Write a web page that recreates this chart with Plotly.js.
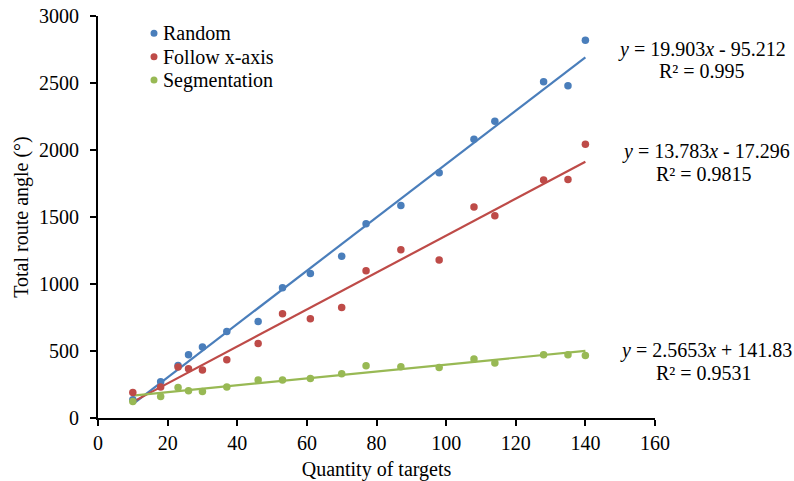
<!DOCTYPE html>
<html>
<head>
<meta charset="utf-8">
<script src="https://cdn.plot.ly/plotly-3.0.1.min.js"></script>
<style>html,body{margin:0;padding:0;background:#fff;}#chart{width:794px;height:481px;}</style>
</head>
<body>
<div id="chart"></div>
<script>
// ---- data ----
const targets = [10, 18, 23, 26, 30, 37, 46, 53, 61, 70, 77, 87, 98, 108, 114, 128, 135, 140];
const randomAngle = [136, 271, 392, 472, 529, 646, 720, 972, 1078, 1208, 1449, 1585, 1831, 2080, 2215, 2510, 2480, 2819];
const followAngle = [191, 231, 380, 368, 358, 435, 556, 778, 740, 825, 1098, 1255, 1180, 1575, 1509, 1777, 1780, 2043];
const segmentAngle = [124, 161, 228, 204, 198, 231, 283, 283, 295, 330, 390, 383, 377, 440, 410, 472, 472, 467];
const seriesNames = ["Random", "Follow x-axis", "Segmentation"];
const slopes = [19.903, 13.783, 2.5653];
const intercepts = [-95.212, -17.296, 141.83];
const r2 = ["0.995", "0.9815", "0.9531"];
const eqText = ["<i>y</i> = 19.903<i>x</i> - 95.212", "<i>y</i> = 13.783<i>x</i> - 17.296", "<i>y</i> = 2.5653<i>x</i> + 141.83"];
const xTicks = [0, 20, 40, 60, 80, 100, 120, 140, 160];
const yTicks = [0, 500, 1000, 1500, 2000, 2500, 3000];

const colors = ["#4a7ebb", "#be4b48", "#98b954"];
const font = "Liberation Serif, Times New Roman, serif";
const allY = [randomAngle, followAngle, segmentAngle];

// plot-area geometry (pixels) for placing paper-referenced items
const W = 794, H = 481, ML = 98, MR = 139, MT = 16, MB = 63;
const PW = W - ML - MR, PH = H - MT - MB;
const px = v => (v - ML) / PW;
const py = v => (H - MB - v) / PH;

const traces = [];
for (let i = 0; i < 3; i++) {
  const x0 = targets[0], x1 = targets[targets.length - 1];
  traces.push({
    x: [x0, x1],
    y: [slopes[i] * x0 + intercepts[i], slopes[i] * x1 + intercepts[i]],
    mode: "lines", type: "scatter", showlegend: false, hoverinfo: "skip",
    name: seriesNames[i] + " trend",
    line: {color: colors[i], width: 2.2}
  });
}
for (let i = 0; i < 3; i++) {
  traces.push({
    x: targets, y: allY[i], name: seriesNames[i], showlegend: false,
    mode: "markers", type: "scatter",
    marker: {color: colors[i], size: 7.5}
  });
}

const annotations = [];
const shapes = [];
// trendline equations (two lines each)
const eqCY = [50, 151.5, 350.5];
const eqCX = [702, 706, 706];
const r2CY = [71, 173.5, 372.5];
const r2CX = [702, 704, 704];
for (let i = 0; i < 3; i++) {
  annotations.push({
    xref: "paper", yref: "paper", x: px(eqCX[i]), y: py(eqCY[i]),
    text: eqText[i], showarrow: false, xanchor: "center", yanchor: "middle",
    font: {family: font, size: 20, color: "#000"}
  });
  annotations.push({
    xref: "paper", yref: "paper", x: px(r2CX[i]), y: py(r2CY[i]),
    text: "R² = " + r2[i], showarrow: false, xanchor: "center", yanchor: "middle",
    font: {family: font, size: 20, color: "#000"}
  });
}
// legend (drawn by hand for exact spacing)
const legY = [33.3, 56.7, 80];
for (let i = 0; i < 3; i++) {
  annotations.push({
    xref: "paper", yref: "paper", x: px(161), y: py(legY[i]),
    text: seriesNames[i], showarrow: false, xanchor: "left", yanchor: "middle",
    font: {family: font, size: 20, color: "#000"}
  });
  shapes.push({
    type: "circle", xref: "paper", yref: "paper",
    x0: px(154 - 3.5), x1: px(154 + 3.5), y0: py(legY[i] + 3.5), y1: py(legY[i] - 3.5),
    fillcolor: colors[i], line: {width: 0}
  });
}

const layout = {
  width: W, height: H,
  margin: {l: ML, r: MR, t: MT, b: MB},
  paper_bgcolor: "#fff", plot_bgcolor: "#fff",
  font: {family: font, size: 20, color: "#000"},
  showlegend: false,
  xaxis: {
    range: [0, 160], tickvals: xTicks, ticktext: xTicks.map(String),
    showgrid: false, zeroline: false, showline: true, linecolor: "#000", linewidth: 2,
    ticks: "outside", ticklen: 6, tickwidth: 2, tickcolor: "#000",
    tickfont: {family: font, size: 20, color: "#000"},
    title: {text: "Quantity of targets", font: {family: font, size: 20, color: "#000"}, standoff: 10}
  },
  yaxis: {
    range: [0, 3000], tickvals: yTicks, ticktext: yTicks.map(String),
    showgrid: false, zeroline: false, showline: true, linecolor: "#000", linewidth: 2,
    ticks: "outside", ticklen: 6, tickwidth: 2, tickcolor: "#000",
    ticklabelstandoff: 7,
    tickfont: {family: font, size: 20, color: "#000"},
    title: {text: "Total route angle (°)", font: {family: font, size: 20, color: "#000"}, standoff: 5}
  },
  annotations: annotations,
  shapes: shapes
};

Plotly.newPlot("chart", traces, layout, {displayModeBar: false, staticPlot: true});
</script>
</body>
</html>
